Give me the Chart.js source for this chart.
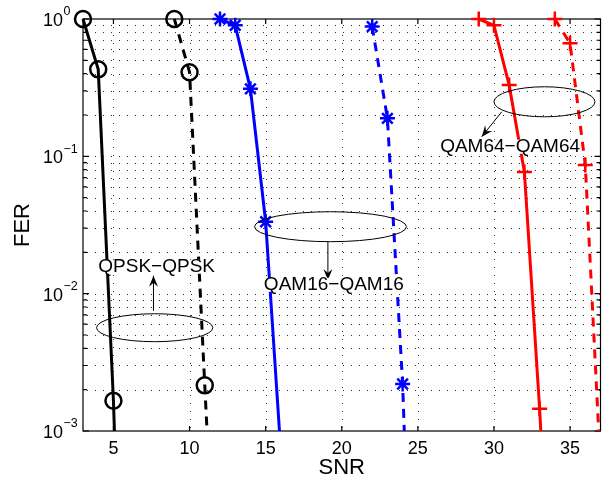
<!DOCTYPE html>
<html>
<head>
<meta charset="utf-8">
<script src="https://cdn.jsdelivr.net/npm/chart.js@4/dist/chart.umd.min.js"></script>
<style>
  html, body { margin: 0; padding: 0; background: #fff; }
  #wrap { width: 611px; height: 481px; }
</style>
</head>
<body>
<div id="wrap"><canvas id="ferChart" width="611" height="481"></canvas></div>
<script>
// ---------- DATA ----------
const xTicks = [5, 10, 15, 20, 25, 30, 35];
const yTicks = [1e-3, 1e-2, 1e-1, 1];

const qpskSolidSnr = [3, 4, 5, 6];
const qpskSolidFer = [1.0, 0.43, 1.66e-3, 7e-7];
const qpskDashSnr = [9, 10, 11, 12];
const qpskDashFer = [1.0, 0.41, 2.15e-3, 1.3e-5];

const qam16SolidSnr = [12, 13, 14, 15, 16];
const qam16SolidFer = [1.0, 0.9, 0.31, 0.0334, 7e-4];
const qam16DashSnr = [22, 23, 24, 25];
const qam16DashFer = [0.88, 0.189, 2.2e-3, 1.5e-6];

const qam64SolidSnr = [29, 30, 31, 32, 33, 34];
const qam64SolidFer = [1.0, 0.9, 0.33, 0.077, 1.45e-3, 1.3e-5];
const qam64DashSnr = [34, 35, 36, 37];
const qam64DashFer = [1.0, 0.665, 0.0865, 5.5e-4];

// annotations (ellipse box, arrow, label) in data units
const notes = [
  { text: "QPSK\u2212QPSK", box: [3.89, 11.53, 7.14e-3, 4.47e-3],
    arrow: [7.63, 7.5e-3, 7.63, 0.0135], at: [7.84, 0.0157] },
  { text: "QAM16\u2212QAM16", box: [14.27, 24.25, 0.0395, 0.0239],
    arrow: [19.09, 0.0239, 19.09, 0.0126], at: [19.48, 0.0116] },
  { text: "QAM64\u2212QAM64", box: [30.0, 36.64, 0.321, 0.194],
    arrow: [30.51, 0.211, 29.2, 0.139], at: [31.06, 0.1175] },
];

const FONT = '"Liberation Sans", Arial, Helvetica, sans-serif';

// ---------- HELPERS ----------
function pts(xs, ys) {
  return xs.map((x, i) => ({ x: x, y: ys[i] }));
}

function series(xs, ys, color, style, dashed) {
  return {
    data: pts(xs, ys),
    borderColor: color,
    borderWidth: 3,
    borderDash: dashed ? [9, 7] : [],
    pointStyle: style,
    pointRadius: style === "circle" ? 8 : 7.5,
    pointBorderWidth: 2.5,
    pointBorderColor: color,
    pointBackgroundColor: "rgba(0,0,0,0)",
    fill: false,
    tension: 0,
    clip: { left: 12, top: 12, right: 12, bottom: 0 },
  };
}

function yGridValues() {
  const out = [];
  for (let i = 0; i < yTicks.length - 1; i++) {
    for (let m = 1; m < 10; m++) out.push(m * yTicks[i]);
  }
  out.push(yTicks[yTicks.length - 1]);
  return out;
}

function drawArrowHead(ctx, x0, y0, x1, y1) {
  const a = Math.atan2(y1 - y0, x1 - x0);
  const len = 11, half = 4.5, back = 7;
  ctx.save();
  ctx.translate(x1, y1);
  ctx.rotate(a);
  ctx.beginPath();
  ctx.moveTo(0, 0);
  ctx.lineTo(-len, -half);
  ctx.lineTo(-back, 0);
  ctx.lineTo(-len, half);
  ctx.closePath();
  ctx.fill();
  ctx.restore();
}

// ---------- FRAME / GRID / TICKS / LABELS ----------
const axesBox = {
  id: "axesBox",
  beforeDatasetsDraw(chart) {
    const { ctx, chartArea: a, scales } = chart;
    ctx.save();

    // dotted grid (matlab style)
    ctx.fillStyle = "#333";
    const L = Math.round(a.left), R = Math.round(a.right);
    const T = Math.round(a.top), B = Math.round(a.bottom);
    yGridValues().forEach((v) => {
      const y = Math.round(scales.y.getPixelForValue(v));
      if (y <= T || y >= B) return;
      for (let x = L + 4; x < R - 1; x += 8) ctx.fillRect(x, y, 1, 1);
    });
    xTicks.forEach((v) => {
      const x = Math.round(scales.x.getPixelForValue(v));
      for (let y = B - 4; y > T + 1; y -= 8) ctx.fillRect(x, y, 1, 1);
    });

    // box
    ctx.strokeStyle = "#000";
    ctx.lineWidth = 1.2;
    ctx.strokeRect(a.left, a.top, a.right - a.left, a.bottom - a.top);
    ctx.beginPath();
    xTicks.forEach((v) => {
      const x = scales.x.getPixelForValue(v);
      ctx.moveTo(x, a.bottom); ctx.lineTo(x, a.bottom - 5);
      ctx.moveTo(x, a.top); ctx.lineTo(x, a.top + 5);
    });
    yGridValues().forEach((v) => {
      const y = scales.y.getPixelForValue(v);
      const l = yTicks.includes(v) ? 6 : 4;
      ctx.moveTo(a.left, y); ctx.lineTo(a.left + l, y);
      ctx.moveTo(a.right, y); ctx.lineTo(a.right - l, y);
    });
    ctx.stroke();

    // y labels: 10^e
    ctx.fillStyle = "#000";
    yTicks.forEach((v) => {
      const y = scales.y.getPixelForValue(v);
      const e = Math.round(Math.log10(v));
      ctx.font = "18px " + FONT;
      ctx.textAlign = "right";
      ctx.textBaseline = "middle";
      ctx.fillText("10", 63, y + 2);
      ctx.font = "12.5px " + FONT;
      ctx.textAlign = "left";
      ctx.fillText(e === 0 ? "0" : "\u2212" + Math.abs(e), 63.5, y - 7);
    });
    ctx.restore();
  },
  afterDatasetsDraw(chart) {
    const { ctx, scales } = chart;
    const px = (v) => scales.x.getPixelForValue(v);
    const py = (v) => scales.y.getPixelForValue(v);
    ctx.save();
    ctx.strokeStyle = "#000";
    ctx.lineWidth = 1;
    notes.forEach((n) => {
      const x0 = px(n.box[0]), x1 = px(n.box[1]);
      const y0 = py(n.box[2]), y1 = py(n.box[3]);
      ctx.beginPath();
      ctx.ellipse((x0 + x1) / 2, (y0 + y1) / 2, (x1 - x0) / 2, (y1 - y0) / 2, 0, 0, Math.PI * 2);
      ctx.stroke();

      const ax0 = px(n.arrow[0]), ay0 = py(n.arrow[1]);
      const ax1 = px(n.arrow[2]), ay1 = py(n.arrow[3]);
      ctx.beginPath();
      ctx.moveTo(ax0, ay0);
      ctx.lineTo(ax1, ay1);
      ctx.stroke();
      ctx.fillStyle = "#000";
      drawArrowHead(ctx, ax0, ay0, ax1, ay1);

      ctx.font = "19px " + FONT;
      ctx.textAlign = "center";
      ctx.textBaseline = "middle";
      const tx = px(n.at[0]), ty = py(n.at[1]);
      const w = ctx.measureText(n.text).width;
      ctx.fillStyle = "#fff";
      ctx.fillRect(tx - w / 2, ty - 7, w, 14);
      ctx.fillStyle = "#000";
      ctx.fillText(n.text, tx, ty);
    });
    ctx.restore();
  },
};

// ---------- CHART ----------
new Chart(document.getElementById("ferChart"), {
  type: "line",
  data: {
    datasets: [
      series(qpskSolidSnr, qpskSolidFer, "#000000", "circle", false),
      series(qpskDashSnr, qpskDashFer, "#000000", "circle", true),
      series(qam16SolidSnr, qam16SolidFer, "#0000ff", "star", false),
      series(qam16DashSnr, qam16DashFer, "#0000ff", "star", true),
      series(qam64SolidSnr, qam64SolidFer, "#ff0000", "cross", false),
      series(qam64DashSnr, qam64DashFer, "#ff0000", "cross", true),
    ],
  },
  options: {
    responsive: false,
    animation: false,
    layout: { padding: { left: 0, top: 19, right: 7, bottom: 0 } },
    plugins: { legend: { display: false }, tooltip: { enabled: false } },
    scales: {
      x: {
        type: "linear",
        min: 3,
        max: 37,
        afterBuildTicks: (s) => { s.ticks = xTicks.map((v) => ({ value: v })); },
        afterFit: (s) => { s.height = 50; },
        grid: { display: false, drawTicks: false },
        border: { display: false },
        ticks: {
          autoSkip: false,
          maxRotation: 0,
          padding: 7,
          color: "#000",
          font: { family: FONT, size: 18 },
          callback: (v) => String(v),
        },
        title: {
          display: true,
          text: "SNR",
          color: "#000",
          font: { family: FONT, size: 22 },
          padding: 0,
        },
      },
      y: {
        type: "logarithmic",
        min: 1e-3,
        max: 1,
        afterBuildTicks: (s) => { s.ticks = yGridValues().map((v) => ({ value: v })); },
        afterFit: (s) => { s.width = 83; },
        grid: { display: false, drawTicks: false },
        border: { display: false },
        ticks: { display: false },
        title: {
          display: true,
          text: "FER",
          color: "#000",
          font: { family: FONT, size: 22 },
          padding: { top: 10, bottom: 0 },
        },
      },
    },
  },
  plugins: [axesBox],
});
</script>
</body>
</html>
